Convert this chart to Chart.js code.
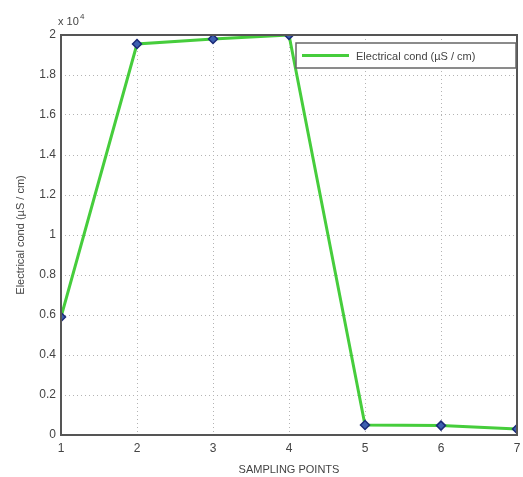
<!DOCTYPE html>
<html>
<head>
<meta charset="utf-8">
<script src="https://cdn.jsdelivr.net/npm/chart.js@4/dist/chart.umd.min.js"></script>
<style>
  html, body { margin: 0; padding: 0; background: #fff; }
  #wrap { width: 523px; height: 477px; }
</style>
</head>
<body>
<div id="wrap"><canvas id="cond-chart" width="523" height="477"></canvas></div>
<script>
// sampling points and measured conductivity (µS / cm)
const points = [1, 2, 3, 4, 5, 6, 7];
const conductivity = [5900, 19550, 19800, 20000, 500, 470, 300];
const seriesLabel = 'Electrical cond (µS / cm)';
const yTicks = [0, 2000, 4000, 6000, 8000, 10000, 12000, 14000, 16000, 18000, 20000];

const axisColor = '#555';
const textColor = '#444';
const font = "'Liberation Sans', Arial, sans-serif";

// box around the axes, exponent note and inset legend
const matlabAxes = {
    id: 'matlabAxes',
    afterDraw(chart) {
        const ctx = chart.ctx;
        const a = chart.chartArea;
        ctx.save();
        ctx.strokeStyle = axisColor;
        ctx.lineWidth = 2;
        ctx.strokeRect(a.left, a.top, a.right - a.left, a.bottom - a.top);

        // x 10^4
        ctx.fillStyle = textColor;
        ctx.textBaseline = 'alphabetic';
        ctx.font = '11px ' + font;
        ctx.fillText('x 10', a.left - 3, a.top - 10);
        ctx.font = '8px ' + font;
        ctx.fillText('4', a.left + 19, a.top - 16);

        // legend
        const lx = a.right - 221, ly = a.top + 8, lw = 220, lh = 25;
        ctx.fillStyle = '#fff';
        ctx.fillRect(lx, ly, lw, lh);
        ctx.strokeStyle = '#666';
        ctx.lineWidth = 1.5;
        ctx.strokeRect(lx, ly, lw, lh);
        ctx.strokeStyle = 'rgb(70,205,60)';
        ctx.lineWidth = 3;
        ctx.beginPath();
        ctx.moveTo(lx + 6, ly + lh / 2);
        ctx.lineTo(lx + 53, ly + lh / 2);
        ctx.stroke();
        ctx.fillStyle = textColor;
        ctx.font = '11px ' + font;
        ctx.textBaseline = 'middle';
        ctx.fillText(chart.data.datasets[0].label, lx + 60, ly + lh / 2 + 1);
        ctx.restore();
    }
};

const config = {
    type: 'line',
    data: {
        labels: points,
        datasets: [{
            label: seriesLabel,
            data: conductivity,
            borderColor: 'rgb(70,205,60)',
            borderWidth: 3,
            pointStyle: 'rectRot',
            pointRadius: 4.5,
            pointBorderWidth: 1.5,
            pointBorderColor: '#1b2a78',
            pointBackgroundColor: '#3d5fb0',
            tension: 0
        }]
    },
    options: {
        responsive: false,
        animation: false,
        layout: { padding: { top: 35, right: 0, left: 14, bottom: 0 } },
        plugins: {
            legend: { display: false },
            tooltip: { enabled: false }
        },
        scales: {
            x: {
                type: 'linear',
                min: 1,
                max: 7,
                afterBuildTicks: scale => { scale.ticks = points.map(v => ({ value: v })); },
                afterFit: scale => {
                    scale.height = 42;
                    scale.paddingRight = 5;
                },
                grid: {
                    color: '#b4b4b4',
                    lineWidth: 1,
                    tickLength: 0,
                    drawTicks: false
                },
                border: { display: false, dash: [1, 3] },
                ticks: {
                    color: textColor,
                    font: { family: font, size: 12 },
                    padding: 6,
                    maxRotation: 0
                },
                title: {
                    display: true,
                    text: 'SAMPLING POINTS',
                    color: textColor,
                    font: { family: font, size: 11 },
                    padding: { top: 0, bottom: 0 }
                }
            },
            y: {
                min: 0,
                max: 20000,
                afterBuildTicks: scale => { scale.ticks = yTicks.map(v => ({ value: v })); },
                afterFit: scale => { scale.width = 47; },
                grid: {
                    color: '#b4b4b4',
                    lineWidth: 1,
                    drawTicks: false
                },
                border: { display: false, dash: [1, 3] },
                ticks: {
                    color: textColor,
                    font: { family: font, size: 12 },
                    padding: 5,
                    callback: v => String(+(v / 10000).toFixed(1))
                },
                title: {
                    display: true,
                    text: seriesLabel,
                    color: textColor,
                    font: { family: font, size: 11 },
                    padding: { top: 0, bottom: 2 }
                }
            }
        }
    },
    plugins: [matlabAxes]
};

new Chart(document.getElementById('cond-chart'), config);
</script>
</body>
</html>
